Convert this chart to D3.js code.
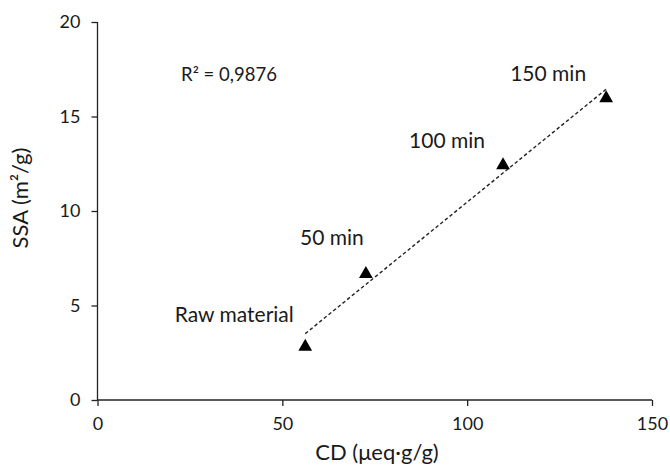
<!DOCTYPE html>
<html><head><meta charset="utf-8">
<script src="https://cdn.jsdelivr.net/npm/d3@7"></script>
<style>body{margin:0;background:#fff}svg{display:block}text{font-family:Lato,"Open Sans",sans-serif;fill:#1a1a1a}</style>
</head><body>
<svg id="c" width="670" height="468"></svg>
<script>
const labels = ["Raw material","50 min","100 min","150 min"];
const cdValues = [56.2, 72.6, 109.7, 137.6];
const ssaValues = [2.87, 6.72, 12.47, 16.02];
const xTicks = [0, 50, 100, 150];
const yTicks = [0, 5, 10, 15, 20];
const r2Label = "R² = 0,9876";
const xTitle = "CD (μeq·g/g)";
const yTitle = "SSA (m²/g)";
// label anchor offsets in px relative to point (layout, not data)
const labelOffsets = [[-71,-24],[-34,-28],[-56,-16],[-58,-16]];

const svg = d3.select("#c");
const x = d3.scaleLinear().domain([0,150]).range([97.5,652]);
const y = d3.scaleLinear().domain([0,20]).range([400,22]);

const xAxis = svg.append("g").attr("transform","translate(0,400)")
  .call(d3.axisBottom(x).tickValues(xTicks).tickSize(6).tickPadding(11));
const yAxis = svg.append("g").attr("transform","translate(97.5,0)")
  .call(d3.axisLeft(y).tickValues(yTicks).tickSize(6).tickPadding(11));
[xAxis,yAxis].forEach(a=>{
  a.selectAll("path,line").attr("stroke","#222").attr("stroke-width",1.3);
  a.selectAll("text").style("font-size","18px").attr("fill","#1a1a1a");
  a.select(".domain").attr("d", a===xAxis ? "M97.5,0H652" : "M0,400V22");
});

// linear regression trend line
const n = cdValues.length;
const mx = d3.mean(cdValues), my = d3.mean(ssaValues);
let sxy=0,sxx=0;
for(let i=0;i<n;i++){sxy+=(cdValues[i]-mx)*(ssaValues[i]-my);sxx+=(cdValues[i]-mx)**2;}
const slope = sxy/sxx, icpt = my - slope*mx;
const x0 = d3.min(cdValues), x1 = d3.max(cdValues);
svg.append("line")
  .attr("x1",x(x0)).attr("y1",y(icpt+slope*x0))
  .attr("x2",x(x1)).attr("y2",y(icpt+slope*x1))
  .attr("stroke","#222").attr("stroke-width",1.4).attr("stroke-dasharray","3.5,2.5");

// triangle markers
const tri = d3.symbol().type(d3.symbolTriangle).size(82);
svg.selectAll(".pt").data(cdValues).join("path")
  .attr("d",tri).attr("fill","#000")
  .attr("transform",(d,i)=>`translate(${x(d)},${y(ssaValues[i])+1})`);

// point labels
svg.selectAll(".lbl").data(labels).join("text")
  .attr("x",(d,i)=>x(cdValues[i])+labelOffsets[i][0])
  .attr("y",(d,i)=>y(ssaValues[i])+labelOffsets[i][1])
  .attr("text-anchor","middle")
  .style("font-size","21px").text(d=>d);

svg.append("text").attr("x",229).attr("y",81).attr("text-anchor","middle")
  .style("font-size","18.5px").text(r2Label);

svg.append("text").attr("x",377).attr("y",460).attr("text-anchor","middle")
  .style("font-size","22px").text(xTitle);
svg.append("text").attr("transform","translate(28,198) rotate(-90)").attr("text-anchor","middle")
  .style("font-size","22px").text(yTitle);
</script>
</body></html>
